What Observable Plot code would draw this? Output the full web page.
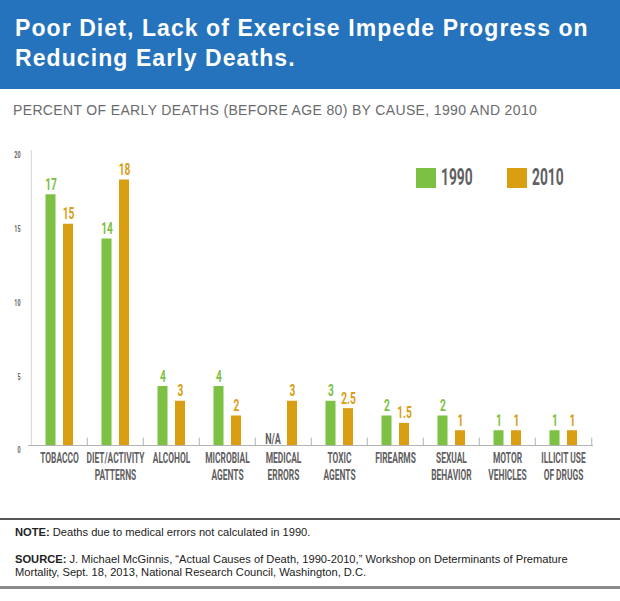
<!DOCTYPE html>
<html>
<head>
<meta charset="utf-8">
<script src="https://cdn.jsdelivr.net/npm/d3@7"></script>
<script src="https://cdn.jsdelivr.net/npm/@observablehq/plot@0.6"></script>
<style>
  html, body { margin: 0; padding: 0; background: #fff; }
  #wrap { position: relative; width: 620px; height: 601px; overflow: hidden; font-family: "Liberation Sans", Arial, sans-serif; }
  #banner { position: absolute; left: 0; top: 0; width: 620px; height: 89px; background: #2473bc; }
  #title { position: absolute; left: 15px; top: 13px; color: #fff; font-weight: bold; font-size: 23px; letter-spacing: 1.08px; line-height: 30px; white-space: nowrap; }
  #subtitle { position: absolute; left: 13px; top: 102px; color: #6a6b6e; font-size: 14px; letter-spacing: 0.35px; line-height: 16px; white-space: nowrap; }
  #chart { position: absolute; left: 0; top: 140px; }
  .leg { position: absolute; top: 168px; height: 20px; white-space: nowrap; }
  .leg .sw { position: absolute; left: 0; top: 0; width: 20px; height: 20px; }
  .leg .lt { position: absolute; left: 25px; top: -4px; font-family: Roboto, sans-serif; font-weight: bold; font-size: 23px; line-height: 28px; color: #5f6062; transform: scaleX(0.6); transform-origin: left center; }
  #rule1 { position: absolute; left: 0; top: 518px; width: 620px; height: 2px; background: #555; }
  #rule2 { position: absolute; left: 0; top: 586px; width: 620px; height: 3px; background: #8a8a8a; }
  .foot { position: absolute; left: 15px; font-size: 11.15px; line-height: 13px; color: #222; white-space: nowrap; }
  .foot b { font-weight: bold; }
</style>
</head>
<body>
<div id="wrap">
  <div id="banner"><div id="title">Poor Diet, Lack of Exercise Impede Progress on<br>Reducing Early Deaths.</div></div>
  <div id="subtitle">PERCENT OF EARLY DEATHS (BEFORE AGE 80) BY CAUSE, 1990 AND 2010</div>
  <div id="chart"></div>
  <div id="legend"></div>
  <div id="rule1"></div>
  <div class="foot" style="top:526px"><b>NOTE:</b> Deaths due to medical errors not calculated in 1990.</div>
  <div class="foot" style="top:553px"><b>SOURCE:</b> J. Michael McGinnis, “Actual Causes of Death, 1990-2010,” Workshop on Determinants of Premature<br>Mortality, Sept. 18, 2013, National Research Council, Washington, D.C.</div>
  <div id="rule2"></div>
</div>
<script>
// ---- data ----
const causes = ["TOBACCO", "DIET/ACTIVITY\nPATTERNS", "ALCOHOL", "MICROBIAL\nAGENTS", "MEDICAL\nERRORS",
                "TOXIC\nAGENTS", "FIREARMS", "SEXUAL\nBEHAVIOR", "MOTOR\nVEHICLES", "ILLICIT USE\nOF DRUGS"];
const values1990 = [17, 14, 4, 4, null, 3, 2, 2, 1, 1];
const values2010 = [15, 18, 3, 2, 3, 2.5, 1.5, 1, 1, 1];
const seriesNames = ["1990", "2010"];
const seriesColors = ["#7cc143", "#d99e12"];
const yTicks = [0, 5, 10, 15, 20];
const missingLabel = "N/A";

// ---- layout ----
const W = 620, H = 370, ML = 28, MR = 27, MT = 10, MB = 65;
const bw = (W - ML - MR) / causes.length;
const barW = 10.5;
const off1 = 14.5, off2 = 32; // bar offsets within each band
const gray = "#5f6062";
const condensed = "Roboto, sans-serif";

const rows = causes.map((c, i) => ({cause: c, v1990: values1990[i], v2010: values2010[i]}));
const fmt = v => String(v);

const dx1 = off1 + barW / 2 - bw / 2;
const dx2 = off2 + barW / 2 - bw / 2;

const chart = Plot.plot({
  width: W, height: H,
  marginLeft: ML, marginRight: MR, marginTop: MT, marginBottom: MB,
  style: {fontFamily: condensed, fontWeight: "bold", background: "transparent"},
  x: {domain: causes, padding: 0, axis: null},
  y: {domain: [0, 20], axis: null},
  marks: [
    Plot.ruleX([causes[0]], {x: d => d, y1: 0, y2: 20, dx: -bw / 2, stroke: "#d4d4d4"}),
    Plot.barY(rows.filter(d => d.v1990 != null), {x: "cause", y: "v1990", fill: seriesColors[0],
      insetLeft: off1, insetRight: bw - off1 - barW}),
    Plot.barY(rows, {x: "cause", y: "v2010", fill: seriesColors[1],
      insetLeft: off2, insetRight: bw - off2 - barW}),
    Plot.ruleY([0], {stroke: "#b3b3b3"}),
    Plot.ruleX(causes.slice(1), {x: d => d, y1: 0, y2: 0.5, dx: -bw / 2, stroke: "#b3b3b3"}),
    Plot.ruleX([causes[causes.length - 1]], {x: d => d, y1: 0, y2: 0.5, dx: bw / 2, stroke: "#b3b3b3"}),
    Plot.text(rows.filter(d => d.v1990 != null), {x: "cause", y: "v1990", text: d => fmt(d.v1990),
      dx: dx1, dy: -5, lineAnchor: "bottom", fill: seriesColors[0], fontSize: 17}),
    Plot.text(rows, {x: "cause", y: "v2010", text: d => fmt(d.v2010),
      dx: dx2, dy: -5, lineAnchor: "bottom", fill: seriesColors[1], fontSize: 17}),
    Plot.text(rows.filter(d => d.v1990 == null), {x: "cause", y: () => 0, text: () => missingLabel,
      dx: dx1 - 2, dy: -2, lineAnchor: "bottom", fill: gray, fontSize: 15}),
    Plot.axisY(yTicks, {tickSize: 0, tickPadding: 8, dy: 5, fontSize: 9, fill: gray, label: null}),
    Plot.axisX({tickSize: 0, tickPadding: 6, fontSize: 14, lineHeight: 1.2, fill: gray, label: null})
  ]
});

// condense the chart typography horizontally
chart.querySelectorAll("text").forEach(t => {
  const tr = t.getAttribute("transform");
  if (tr) t.setAttribute("transform", tr + " scale(0.6,1)");
  else {
    const x = +t.getAttribute("x") || 0, y = +t.getAttribute("y") || 0;
    t.removeAttribute("x"); t.removeAttribute("y");
    t.setAttribute("transform", `translate(${x},${y}) scale(0.6,1)`);
  }
});
document.getElementById("chart").appendChild(chart);

// legend
const legendLefts = [416, 507];
const legend = document.getElementById("legend");
seriesNames.forEach((name, i) => {
  const item = document.createElement("div");
  item.className = "leg";
  item.style.left = legendLefts[i] + "px";
  item.innerHTML = `<div class="sw" style="background:${seriesColors[i]}"></div><div class="lt">${name}</div>`;
  legend.appendChild(item);
});
</script>
</body>
</html>
